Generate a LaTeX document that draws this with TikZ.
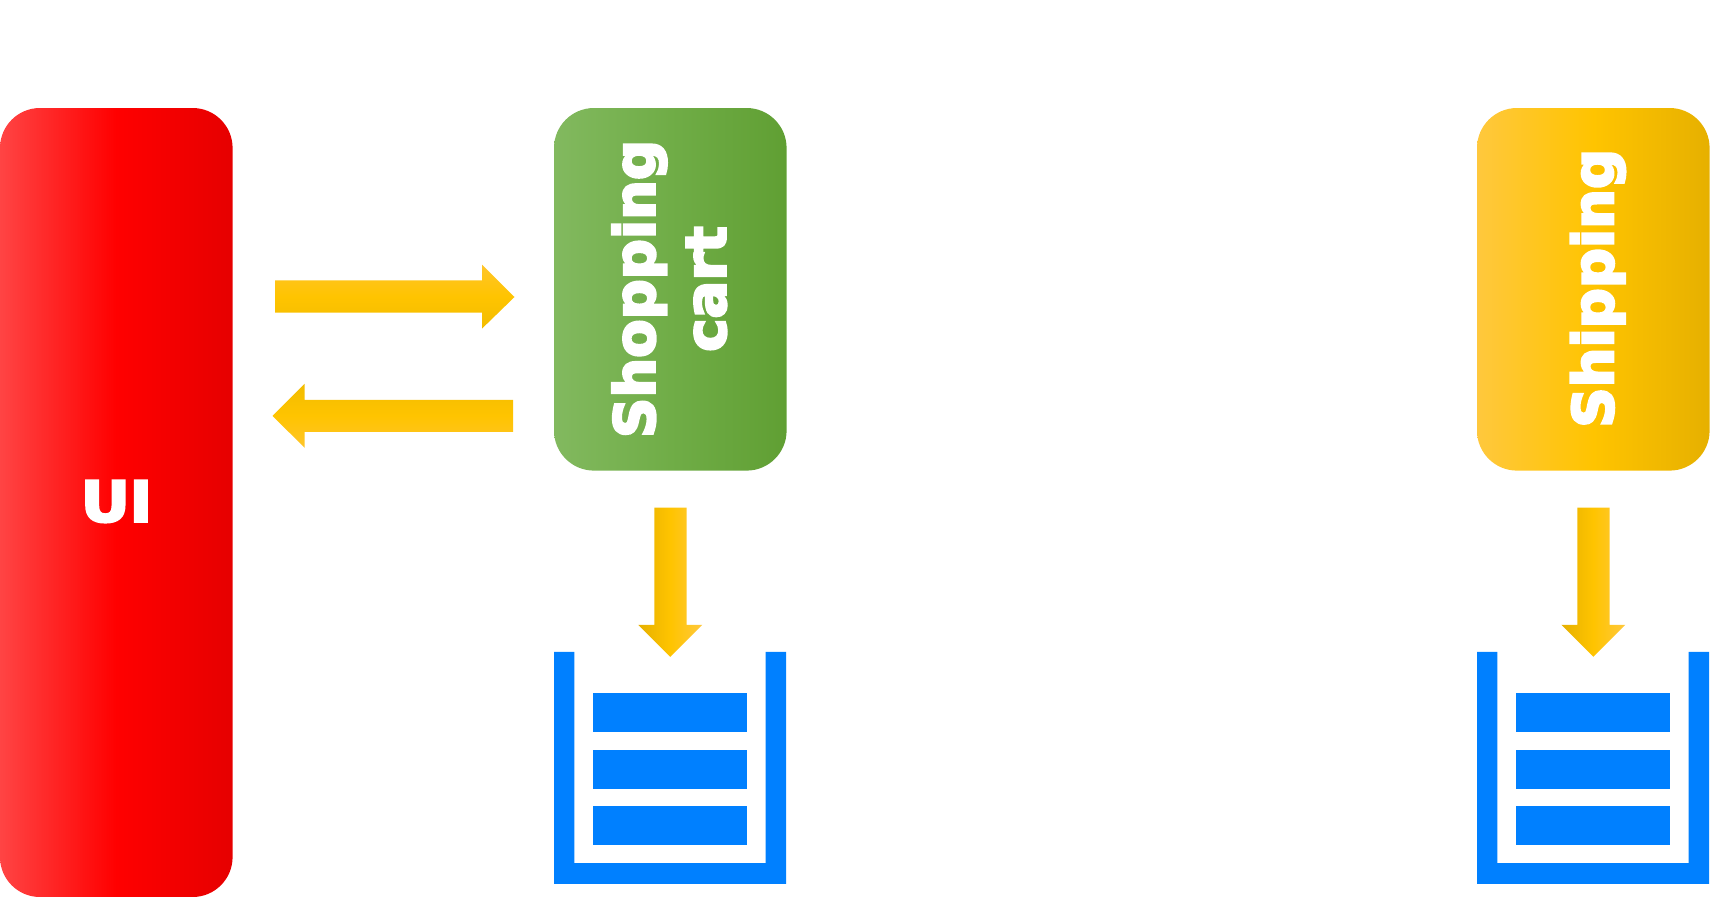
\documentclass[tikz,border=0pt]{standalone}
\usepackage{fontspec}
\newfontfamily\heavyfont{DejaVu Sans Bold}[FakeBold=4.5]
\definecolor{qblue}{HTML}{0080FF}
\definecolor{green1}{HTML}{82B95F}
\definecolor{green2}{HTML}{70AD47}
\definecolor{green3}{HTML}{609F33}
\definecolor{amber1}{HTML}{FFC83D}
\definecolor{amber2}{HTML}{FFC400}
\definecolor{amber3}{HTML}{E6B000}
\definecolor{arrow1}{HTML}{FFC52A}
\definecolor{arrow3}{HTML}{F2BC00}
\definecolor{red1}{HTML}{FF4444}
\definecolor{red2}{HTML}{FF0000}
\definecolor{red3}{HTML}{E60000}
\tikzset{
  x=1pt,y=-1pt,
  boxbase/.style={rectangle,rounded corners=40pt,draw=none,minimum width=232.6pt,inner sep=0pt,outer sep=0pt},
  redbox/.style={boxbase,minimum height=789pt,left color=red1,right color=red3,middle color=red2},
  greenbox/.style={boxbase,minimum height=362.6pt,left color=green1,right color=green3,middle color=green2},
  amberbox/.style={boxbase,minimum height=362.6pt,left color=amber1,right color=amber3,middle color=amber2},
  boxlabel/.style={text=white,inner sep=0pt,align=center,font=\heavyfont\fontsize{56}{71}\selectfont},
  arrowright/.style={draw=none,top color=arrow1,bottom color=arrow3,middle color=amber2},
  arrowleft/.style={draw=none,top color=arrow3,bottom color=arrow1,middle color=amber2},
  arrowdown/.style={draw=none,left color=amber3,right color=amber1,middle color=amber2},
}
\begin{document}
\begin{tikzpicture}
\useasboundingbox (0,0) rectangle (1722,897);
\node[redbox] (ui) at (116.3,502.5) {};
\node[greenbox] (cart) at (670.3,289.3) {};
\node[amberbox] (ship) at (1593.3,289.3) {};
\node[boxlabel] (uilabel) at (116.5,501.5) {\scalebox{1.07}[1]{UI}};
\node[boxlabel,rotate=90] (cartlabel) at (669.3,289) {Shopping\\cart};
\node[boxlabel,rotate=90,anchor=base] (shiplabel) at (1613.2,288.3) {Shipping};
\path[arrowright] (275,280.3) -- (482,280.3) -- (482,264.6) -- (514.5,297) -- (482,328.6) -- (482,312.6) -- (275,312.6) -- cycle;
\path[arrowleft] (513,399.8) -- (304.6,399.8) -- (304.6,383.8) -- (272.5,415.8) -- (304.6,447.8) -- (304.6,431.8) -- (513,431.8) -- cycle;
\foreach \dx in {0,923}{
\begin{scope}[xshift=\dx pt,yshift=-0.8pt]
\path[arrowdown] (654.3,506.7) -- (686.7,506.7) -- (686.7,624) -- (702.3,624) -- (670.3,656) -- (638.3,624) -- (654.3,624) -- cycle;
\fill[qblue] (554,651) -- (574.3,651) -- (574.3,862.3) -- (765.7,862.3) -- (765.7,651) -- (786,651) -- (786,883) -- (554,883) -- cycle;
\fill[qblue] (592.7,692) rectangle (747.3,730.7);
\fill[qblue] (592.7,749) rectangle (747.3,787.7);
\fill[qblue] (592.7,805.3) rectangle (747.3,844.3);
\end{scope}}
\end{tikzpicture}
\end{document}
